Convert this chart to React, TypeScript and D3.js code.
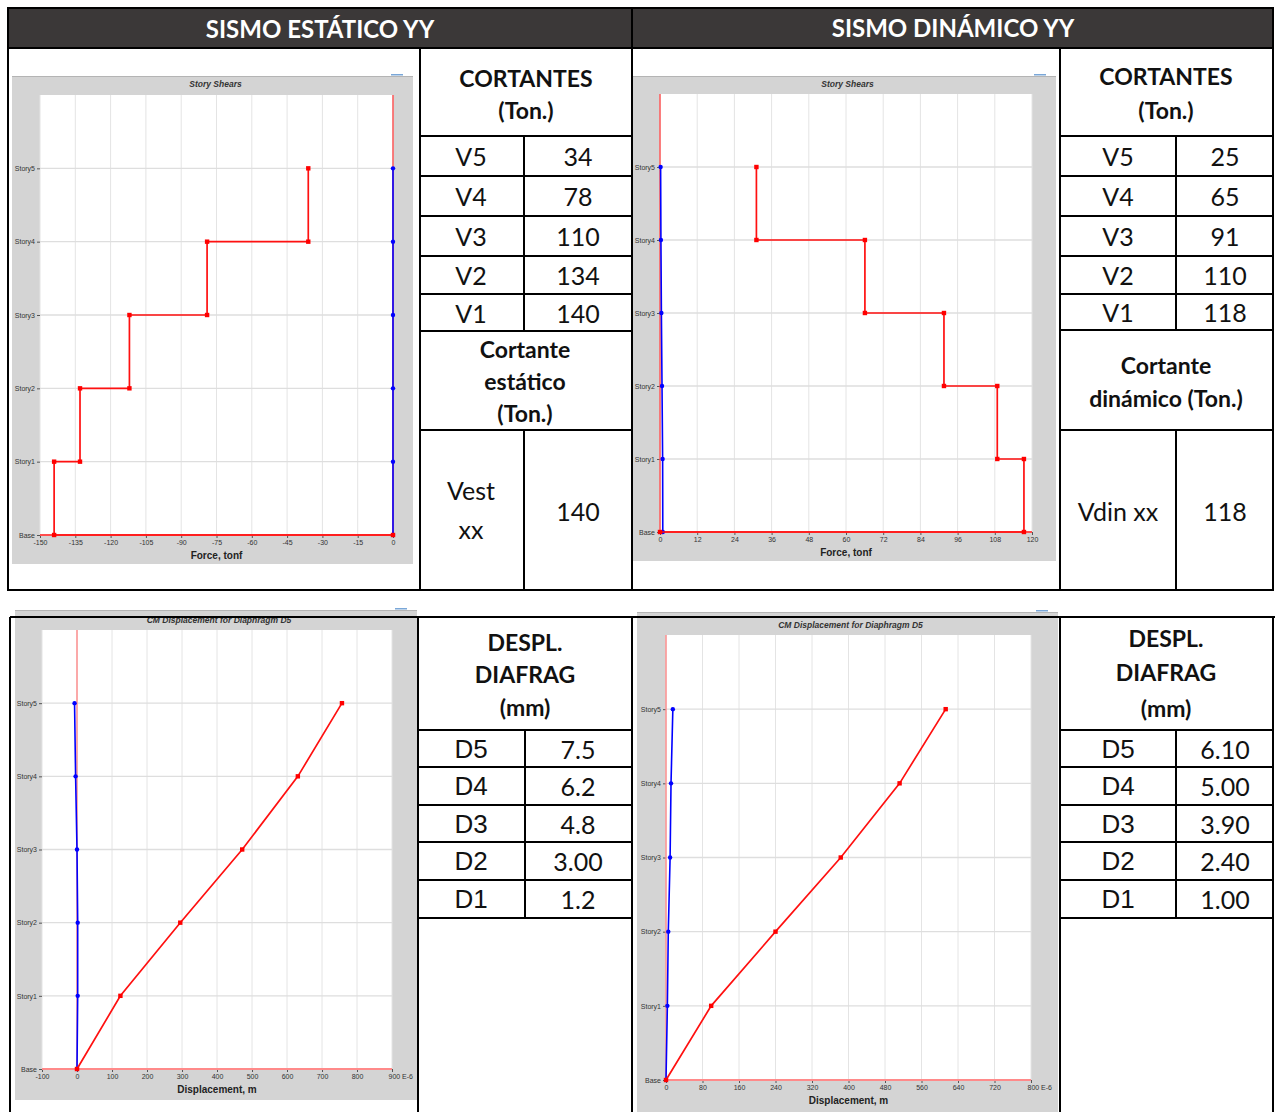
import { useEffect, useRef } from 'react'
import * as d3 from 'd3'

// ---- data ----
const STORIES = ['Base', 'Story1', 'Story2', 'Story3', 'Story4', 'Story5']
const LEVELS = [0, 1, 2, 3, 4, 5]

// story shears, Story1..Story5 (tonf)
const staticShearRed = [-144, -133, -112, -79, -36]
const staticShearBlue = [0, 0, 0, 0, 0, 0] // Base..Story5
const dynamicShearRed = [117.4, 108.8, 91.6, 66.1, 31.1]
const dynamicShearBlue = [0.9, 0.85, 0.65, 0.45, 0.3, 0.2]

// CM displacement (E-6 m), Base..Story5
const staticDispRed = [0, 124, 295, 472, 631, 757]
const staticDispBlue = [0, 2, 2, 0, -4, -7]
const dynamicDispRed = [0, 99, 240, 383, 512, 613]
const dynamicDispBlue = [0, 3, 5, 9, 11, 15]

const shearTicksStatic = [-150, -135, -120, -105, -90, -75, -60, -45, -30, -15, 0]
const shearTicksDynamic = [0, 12, 24, 36, 48, 60, 72, 84, 96, 108, 120]
const dispTicksStatic = [-100, 0, 100, 200, 300, 400, 500, 600, 700, 800, 900]
const dispTicksDynamic = [0, 80, 160, 240, 320, 400, 480, 560, 640, 720, 800]

const shearLabels = ['V5', 'V4', 'V3', 'V2', 'V1']
const staticShearValues = ['34', '78', '110', '134', '140']
const dynamicShearValues = ['25', '65', '91', '110', '118']
const dispLabels = ['D5', 'D4', 'D3', 'D2', 'D1']
const staticDispValues = ['7.5', '6.2', '4.8', '3.00', '1.2']
const dynamicDispValues = ['6.10', '5.00', '3.90', '2.40', '1.00']

type Pt = { v: number; lvl: number }

// shear plot: each story has a top and bottom point
function shearSteps(byStory: number[]): Pt[] {
  const pts: Pt[] = []
  for (let i = byStory.length; i >= 1; i--) {
    pts.push({ v: byStory[i - 1], lvl: i })
    pts.push({ v: byStory[i - 1], lvl: i - 1 })
  }
  return pts
}
const byLevel = (vals: number[]): Pt[] => vals.map((v, i) => ({ v, lvl: LEVELS[i] }))

type Box = { x: number; y: number; w: number; h: number }
type PlotCfg = {
  frame: Box
  plot: Box
  title: string
  titleY: number
  xDomain: [number, number]
  xTicks: number[]
  unitSuffix?: string
  xTitle: string
  red: Pt[]
  blue: Pt[]
  axisRed: string
}

const SMALL = 'Arial, "Liberation Sans", sans-serif'

function EtabsPlot({ cfg }: { cfg: PlotCfg }) {
  const ref = useRef<SVGGElement>(null)
  useEffect(() => {
    const g = d3.select(ref.current!)
    g.selectAll('*').remove()
    const { frame, plot } = cfg

    g.append('rect').attr('x', frame.x).attr('y', frame.y).attr('width', frame.w).attr('height', frame.h)
      .attr('fill', '#d4d4d4')
    g.append('line').attr('x1', frame.x).attr('x2', frame.x + frame.w).attr('y1', frame.y + 0.5).attr('y2', frame.y + 0.5)
      .attr('stroke', '#b4b4b4').attr('stroke-width', 1)
    g.append('rect').attr('x', frame.x + frame.w - 22).attr('y', frame.y - 2).attr('width', 12).attr('height', 1.5)
      .attr('fill', '#7aa7d8')
    g.append('rect').attr('x', plot.x).attr('y', plot.y).attr('width', plot.w).attr('height', plot.h).attr('fill', '#fff')

    const x = d3.scaleLinear().domain(cfg.xDomain).range([plot.x, plot.x + plot.w])
    const y = d3.scaleLinear().domain([0, 6]).range([plot.y + plot.h, plot.y])

    // grid
    g.append('g').selectAll('line').data(cfg.xTicks).join('line')
      .attr('x1', d => x(d)).attr('x2', d => x(d)).attr('y1', plot.y).attr('y2', plot.y + plot.h)
      .attr('stroke', '#e4e4e4').attr('stroke-width', 1)
    g.append('g').selectAll('line').data(LEVELS.slice(1)).join('line')
      .attr('x1', plot.x).attr('x2', plot.x + plot.w).attr('y1', d => y(d)).attr('y2', d => y(d))
      .attr('stroke', '#dedede').attr('stroke-width', 1.3)

    // axes
    const last = cfg.xTicks[cfg.xTicks.length - 1]
    const xAxis = g.append('g').attr('transform', `translate(0,${plot.y + plot.h})`)
      .call(d3.axisBottom(x).tickValues(cfg.xTicks).tickSize(3).tickPadding(2)
        .tickFormat(d => (cfg.unitSuffix && d === last ? `${d} ${cfg.unitSuffix}` : `${d}`)))
    xAxis.select('.domain').remove()
    xAxis.selectAll('.tick line').attr('stroke', '#555')
    xAxis.selectAll('text').attr('fill', '#333').style('font-size', '7px').style('font-family', SMALL)
    if (cfg.unitSuffix) {
      xAxis.selectAll<SVGTextElement, number>('text').filter(d => d === last)
        .attr('text-anchor', 'start').attr('dx', -4)
    }

    const yAxis = g.append('g').attr('transform', `translate(${plot.x},0)`)
      .call(d3.axisLeft(y).tickValues(LEVELS).tickSize(3).tickPadding(2).tickFormat(d => STORIES[+d]))
    yAxis.select('.domain').remove()
    yAxis.selectAll('.tick line').attr('stroke', '#555')
    yAxis.selectAll('text').attr('fill', '#333').style('font-size', '7px').style('font-family', SMALL)

    g.append('text').attr('x', frame.x + frame.w / 2 + 3).attr('y', cfg.titleY).attr('text-anchor', 'middle')
      .attr('dominant-baseline', 'middle').attr('fill', '#333')
      .style('font-size', '8.5px').style('font-weight', 'bold').style('font-style', 'italic').style('font-family', SMALL)
      .text(cfg.title)
    g.append('text').attr('x', plot.x + plot.w / 2).attr('y', plot.y + plot.h + 21).attr('text-anchor', 'middle')
      .attr('dominant-baseline', 'middle').attr('fill', '#222')
      .style('font-size', '10px').style('font-weight', 'bold').style('font-family', SMALL)
      .text(cfg.xTitle)

    // zero reference lines
    g.append('line').attr('x1', x(0)).attr('x2', x(0)).attr('y1', plot.y).attr('y2', y(0))
      .attr('stroke', cfg.axisRed).attr('stroke-width', 1.4)
    g.append('line').attr('x1', plot.x).attr('x2', plot.x + plot.w).attr('y1', y(0)).attr('y2', y(0))
      .attr('stroke', cfg.axisRed).attr('stroke-width', 1.8)

    const line = d3.line<Pt>().x(d => x(d.v)).y(d => y(d.lvl))

    g.append('path').datum(cfg.blue).attr('d', line).attr('fill', 'none')
      .attr('stroke', '#0000ff').attr('stroke-width', 1.6)
    g.append('g').selectAll('circle').data(cfg.blue).join('circle')
      .attr('cx', d => x(d.v)).attr('cy', d => y(d.lvl)).attr('r', 2.2).attr('fill', '#0000ff')

    g.append('path').datum(cfg.red).attr('d', line).attr('fill', 'none')
      .attr('stroke', '#ff1010').attr('stroke-width', 1.7)
    g.append('g').selectAll('rect').data(cfg.red).join('rect')
      .attr('x', d => x(d.v) - 2.2).attr('y', d => y(d.lvl) - 2.2).attr('width', 4.4).attr('height', 4.4).attr('fill', '#ff0000')
  }, [cfg])
  return <g ref={ref} />
}

const plots: PlotCfg[] = [
  {
    frame: { x: 12, y: 76, w: 401, h: 488 },
    plot: { x: 40, y: 95, w: 353, h: 440 },
    title: 'Story Shears', titleY: 85,
    xDomain: [-150, 0], xTicks: shearTicksStatic, xTitle: 'Force, tonf',
    red: [...shearSteps(staticShearRed), { v: 0, lvl: 0 }], blue: byLevel(staticShearBlue), axisRed: '#ff4d4d',
  },
  {
    frame: { x: 633, y: 76, w: 423, h: 485 },
    plot: { x: 660, y: 94, w: 372, h: 438 },
    title: 'Story Shears', titleY: 85,
    xDomain: [0, 120], xTicks: shearTicksDynamic, xTitle: 'Force, tonf',
    red: [...shearSteps(dynamicShearRed), { v: 0, lvl: 0 }], blue: byLevel(dynamicShearBlue), axisRed: '#ff4d4d',
  },
  {
    frame: { x: 15, y: 610, w: 402, h: 490 },
    plot: { x: 42, y: 630, w: 350, h: 439 },
    title: 'CM Displacement for Diaphragm D5', titleY: 621,
    xDomain: [-100, 900], xTicks: dispTicksStatic, unitSuffix: 'E-6', xTitle: 'Displacement, m',
    red: byLevel(staticDispRed), blue: byLevel(staticDispBlue), axisRed: '#ff8a8a',
  },
  {
    frame: { x: 637, y: 612, w: 421, h: 500 },
    plot: { x: 666, y: 635, w: 365, h: 445 },
    title: 'CM Displacement for Diaphragm D5', titleY: 626,
    xDomain: [0, 800], xTicks: dispTicksDynamic, unitSuffix: 'E-6', xTitle: 'Displacement, m',
    red: byLevel(dynamicDispRed), blue: byLevel(dynamicDispBlue), axisRed: '#ff8a8a',
  },
]

const BIG = 'Lato, "Open Sans", sans-serif'

function Cell({ x, y, text, bold, size = 25, family = BIG }: {
  x: number; y: number; text: string; bold?: boolean; size?: number; family?: string
}) {
  return (
    <text x={x} y={y} textAnchor="middle" dominantBaseline="central" fontFamily={family}
      fontWeight={bold ? 'bold' : 'normal'} fontSize={size} fill="#111">{text}</text>
  )
}

type Seg = [number, number, number, number]

function Grid({ segs }: { segs: Seg[] }) {
  return (
    <g stroke="#000" strokeWidth={2}>
      {segs.map((s, i) => <line key={i} x1={s[0]} y1={s[1]} x2={s[2]} y2={s[3]} />)}
    </g>
  )
}

export default function App() {
  const vRowsL = [136, 176, 216, 256, 294, 331]
  const vRowsR = [136, 176, 216, 256, 294, 330]
  const dRows = [730, 767, 805, 842, 880, 918]
  const mid = (r: number[], i: number) => (r[i] + r[i + 1]) / 2

  const segs: Seg[] = [
    [7, 8, 1274, 8], [7, 48, 1274, 48], [7, 590, 1274, 590],
    [8, 8, 8, 590], [632, 8, 632, 590], [1273, 8, 1273, 590], [420, 48, 420, 590], [1060, 48, 1060, 590],
    ...vRowsL.map(r => [420, r, 632, r] as Seg), [420, 430, 632, 430],
    [524, 136, 524, 331], [524, 430, 524, 590],
    ...vRowsR.map(r => [1060, r, 1273, r] as Seg), [1060, 430, 1273, 430],
    [1176, 136, 1176, 330], [1176, 430, 1176, 590],
    [10, 617, 1275, 617],
    [10, 617, 10, 1112], [418, 617, 418, 1112], [632, 617, 632, 1112], [1060, 617, 1060, 1112], [1273, 617, 1273, 1112],
    ...dRows.map(r => [418, r, 632, r] as Seg), [525, 730, 525, 918],
    ...dRows.map(r => [1060, r, 1273, r] as Seg), [1176, 730, 1176, 918],
  ]

  return (
    <svg width={1275} height={1112} style={{ position: 'absolute', left: 0, top: 0, background: '#fff' }}>
      <rect x={8} y={8} width={1266} height={40} fill="#3b3838" />
      <text x={320} y={28} textAnchor="middle" dominantBaseline="central" fontFamily={BIG} fontWeight="bold"
        fontSize={24} fill="#fff">SISMO ESTÁTICO YY</text>
      <text x={953} y={27} textAnchor="middle" dominantBaseline="central" fontFamily={BIG} fontWeight="bold"
        fontSize={24} fill="#fff">SISMO DINÁMICO YY</text>

      {plots.map((p, i) => <EtabsPlot key={i} cfg={p} />)}

      {/* static shear table */}
      <Cell x={526} y={78} text="CORTANTES" bold size={23} />
      <Cell x={526} y={110} text="(Ton.)" bold size={23} />
      {shearLabels.map((l, i) => <Cell key={l} x={471} y={mid(vRowsL, i)} text={l} />)}
      {staticShearValues.map((v, i) => <Cell key={i} x={578} y={mid(vRowsL, i)} text={v} />)}
      <Cell x={525} y={349} text="Cortante" bold size={23} />
      <Cell x={525} y={381} text="estático" bold size={23} />
      <Cell x={525} y={413} text="(Ton.)" bold size={23} />
      <Cell x={471} y={490} text="Vest" />
      <Cell x={471} y={529} text="xx" />
      <Cell x={578} y={511} text={staticShearValues[4]} />

      {/* dynamic shear table */}
      <Cell x={1166} y={76} text="CORTANTES" bold size={23} />
      <Cell x={1166} y={110} text="(Ton.)" bold size={23} />
      {shearLabels.map((l, i) => <Cell key={l} x={1118} y={mid(vRowsR, i)} text={l} />)}
      {dynamicShearValues.map((v, i) => <Cell key={i} x={1225} y={mid(vRowsR, i)} text={v} />)}
      <Cell x={1166} y={365} text="Cortante" bold size={23} />
      <Cell x={1166} y={398} text="dinámico (Ton.)" bold size={23} />
      <Cell x={1118} y={511} text="Vdin xx" />
      <Cell x={1225} y={511} text={dynamicShearValues[4]} />

      {/* displacement tables */}
      <Cell x={525} y={642} text="DESPL." bold size={23} />
      <Cell x={525} y={674} text="DIAFRAG" bold size={23} />
      <Cell x={525} y={707} text="(mm)" bold size={23} />
      {dispLabels.map((l, i) => <Cell key={l} x={471} y={mid(dRows, i)} text={l} size={26} family={SMALL} />)}
      {staticDispValues.map((v, i) => <Cell key={i} x={578} y={mid(dRows, i)} text={v} />)}

      <Cell x={1166} y={638} text="DESPL." bold size={23} />
      <Cell x={1166} y={672} text="DIAFRAG" bold size={23} />
      <Cell x={1166} y={708} text="(mm)" bold size={23} />
      {dispLabels.map((l, i) => <Cell key={l} x={1118} y={mid(dRows, i)} text={l} size={26} family={SMALL} />)}
      {dynamicDispValues.map((v, i) => <Cell key={i} x={1225} y={mid(dRows, i)} text={v} />)}

      <Grid segs={segs} />
    </svg>
  )
}
